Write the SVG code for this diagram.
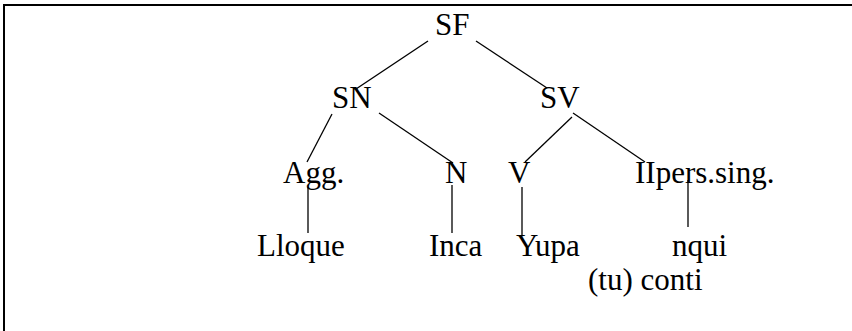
<svg xmlns="http://www.w3.org/2000/svg" width="852" height="331" viewBox="0 0 852 331">
<style>
  text { font-family: "Liberation Serif", "Times New Roman", serif; font-size: 31px; fill: #000; }
  .edge { stroke: #000; stroke-width: 1.3; fill: none; }
  .frame { stroke: #000; stroke-width: 2; fill: none; }
</style>
<rect width="852" height="331" fill="#fff"/>
<path class="frame" d="M4 331 V5 H852"/>
<g id="connectors">
  <line class="edge" x1="428" y1="41" x2="356" y2="89"/>
  <line class="edge" x1="476" y1="41" x2="547" y2="88"/>
  <line class="edge" x1="332" y1="114" x2="307" y2="162"/>
  <line class="edge" x1="379" y1="113" x2="453" y2="163"/>
  <line class="edge" x1="572" y1="117" x2="525" y2="162"/>
  <line class="edge" x1="573" y1="113" x2="645" y2="162"/>
  <line class="edge" x1="308" y1="187" x2="308" y2="233"/>
  <line class="edge" x1="452" y1="185" x2="452" y2="233"/>
  <line class="edge" x1="522" y1="187" x2="522" y2="236"/>
  <line class="edge" x1="688" y1="180" x2="688" y2="227"/>
</g>
<g id="SF"><text x="435" y="35">SF</text></g>
<g id="SN"><text x="332" y="108">SN</text></g>
<g id="SV"><text x="540" y="108">SV</text></g>
<g id="Agg"><text x="283" y="183">Agg.</text></g>
<g id="N"><text x="445" y="183">N</text></g>
<g id="V"><text x="508" y="183">V</text></g>
<g id="IIpers"><text x="635" y="183">IIpers.sing.</text></g>
<g id="Lloque"><text x="257" y="256">Lloque</text></g>
<g id="Inca"><text x="429" y="256">Inca</text></g>
<g id="Yupa"><text x="516" y="256">Yupa</text></g>
<g id="nqui"><text x="672" y="256">nqui</text></g>
<g id="conti"><text x="588" y="290">(tu) conti</text></g>
</svg>
